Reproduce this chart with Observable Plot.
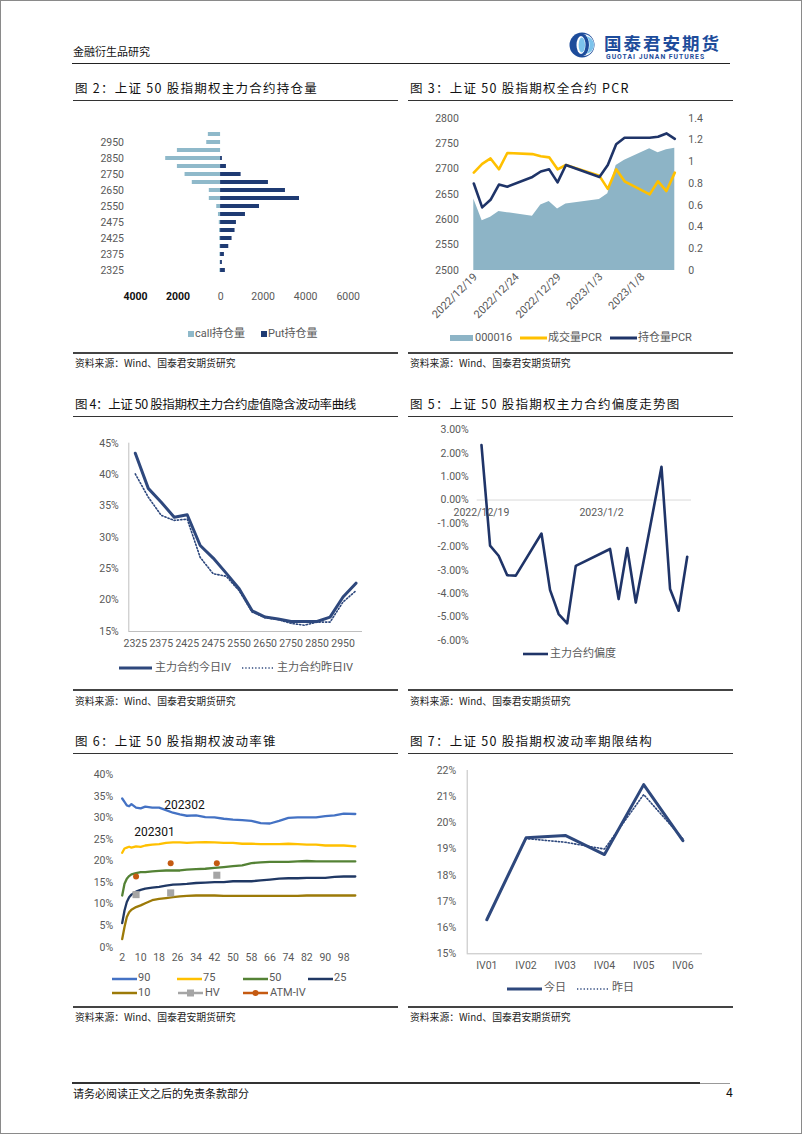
<!DOCTYPE html>
<html><head><meta charset="utf-8">
<script src="https://cdn.jsdelivr.net/npm/d3@7"></script>
<script src="https://cdn.jsdelivr.net/npm/@observablehq/plot@0.6"></script>
<style>
html,body{margin:0;padding:0;background:#fff;}
#page{position:relative;width:802px;height:1134px;overflow:hidden;background:#fff;}
</style></head><body><div id="page"></div>
<script>
// ---------- DATA ----------
// Fig 2: open interest by strike
const strikes = ["2325","2350","2375","2400","2425","2450","2475","2500","2550","2600","2650","2700","2750","2800","2850","2900","2950","3000"];
const callOI = [30,20,30,30,40,50,60,100,180,530,530,1330,1670,2030,2580,2030,650,575];
const putOI  = [225,85,180,385,540,680,745,1170,1830,3710,3050,2250,965,275,85,0,0,0];
const oiTicksNeg = [-4000,-2000];
const oiTicksPos = [0,2000,4000,6000];

// Fig 3 / Fig 5: trading days
const tradeDates = ["2022-12-19","2022-12-20","2022-12-21","2022-12-22","2022-12-23","2022-12-26","2022-12-27","2022-12-28","2022-12-29","2022-12-30","2023-01-03","2023-01-04","2023-01-05","2023-01-06","2023-01-09","2023-01-10","2023-01-11","2023-01-12"];
const idx000016 = [2641,2598,2605,2616,2614,2607,2629,2636,2621,2631,2640,2651,2707,2717,2740,2732,2738,2741];
const volPCR = [0.90,0.98,1.03,0.93,1.08,1.07,1.05,1.04,0.93,0.97,0.87,0.75,0.93,0.82,0.70,0.82,0.73,0.90];
const oiPCR  = [0.80,0.58,0.65,0.79,0.77,0.86,0.91,0.93,0.81,0.97,0.86,0.97,1.16,1.22,1.22,1.23,1.26,1.21];
const leftTicks3 = [2500,2550,2600,2650,2700,2750,2800];
const rightTicks3 = [0,0.2,0.4,0.6,0.8,1,1.2,1.4];
const dateTicks3 = ["2022/12/19","2022/12/24","2022/12/29","2023/1/3","2023/1/8"];

// Fig 4: IV smile (%)
const ivToday = [43.4,37.8,35.6,33.2,33.6,28.7,26.7,24.3,21.8,18.3,17.3,17.0,16.6,16.6,16.6,17.3,20.5,22.7];
const ivYest  = [40.1,36.4,33.5,32.7,32.9,26.8,24.2,23.8,21.5,18.1,17.2,16.9,16.3,16.0,16.5,16.5,19.7,21.5];
const yTicks4 = [15,20,25,30,35,40,45];

// Fig 5: skew (%)
const skew = [2.35,-1.95,-2.38,-3.21,-3.23,-1.43,-3.85,-4.87,-5.27,-2.81,-2.09,-4.23,-2.05,-4.38,1.42,-3.80,-4.73,-2.42];
const yTicks5 = [-6,-5,-4,-3,-2,-1,0,1,2,3];
const dateTicks5 = ["2022/12/19","2023/1/2"];

// Fig 6: volatility cone (%)
const days6 = [2,3,4,5,6,8,10,12,15,18,21,24,27,30,34,38,42,46,50,54,58,62,66,70,74,78,82,86,90,94,98,103];
const cone90 = [34.5,33.7,32.9,32.7,33.2,32.4,32.2,32.6,32.4,32.4,31.8,31.2,30.8,30.5,30.6,30.2,30.1,29.8,29.6,29.5,29.3,28.8,28.7,29.3,30.0,30.1,30.1,30.1,30.4,30.6,31.0,30.9];
const cone75 = [21.9,22.9,23.1,23.3,23.1,23.4,23.3,23.6,23.8,23.9,24.2,24.3,24.3,24.2,24.3,24.4,24.3,24.2,24.2,24.0,24.0,23.9,23.9,23.9,24.0,23.9,23.8,23.8,23.6,23.6,23.6,23.4];
const cone50 = [12.0,14.7,15.9,16.5,16.9,17.2,17.4,17.4,17.6,17.7,17.8,17.8,17.8,18.0,18.1,18.2,18.4,18.6,18.8,19.0,19.5,19.7,19.8,19.8,19.8,19.9,20.0,19.9,19.9,19.9,19.9,19.9];
const cone25 = [5.6,8.5,10.5,11.6,12.2,12.9,13.3,13.6,13.8,14.0,14.3,14.5,14.6,14.7,14.9,15.0,15.1,15.1,15.3,15.3,15.3,15.5,15.7,15.9,16.0,16.0,16.1,16.1,16.1,16.3,16.4,16.4];
const cone10 = [1.9,4.7,7.0,8.1,8.7,9.3,9.7,10.2,10.9,11.2,11.4,11.6,11.8,11.9,12.0,12.0,12.0,11.9,11.9,11.9,11.9,11.9,11.9,11.9,11.9,11.9,12.0,12.0,12.0,12.0,12.0,12.0];
const hvDays = [8,23,43];
const hvVals = [12.2,12.6,16.7];
const atmDays = [8,23,43];
const atmVals = [16.4,19.5,19.5];
const xTicks6 = [2,10,18,26,34,42,50,58,66,74,82,90,98];
const yTicks6 = [0,5,10,15,20,25,30,35,40];
const coneLabels = ["202302","202301"];
const coneLabelDay = [29,16];
const coneLabelVal = [33,26.7];

// Fig 7: term structure (%)
const terms = ["IV01","IV02","IV03","IV04","IV05","IV06"];
const termToday = [16.30,19.43,19.52,18.79,21.46,19.32];
const termYest  = [16.32,19.40,19.26,19.00,21.08,19.39];
const yTicks7 = [15,16,17,18,19,20,21,22];

// ---------- HELPERS ----------
const page = document.getElementById("page");
const TICKFONT = "Roboto, 'Noto Sans CJK SC', sans-serif";
const CJK = "'Noto Sans CJK SC', sans-serif";
const GRAY = "#595959";

function addText(str, x, yc, o = {}) {
  const size = o.size || 11;
  const d = document.createElement("div");
  d.textContent = str;
  d.style.cssText = `position:absolute;left:${x}px;top:${yc - size * 0.55}px;white-space:nowrap;line-height:1;` +
    `font-family:${o.font || CJK};font-size:${size}px;color:${o.color || "#000"};font-weight:${o.weight || "normal"};letter-spacing:${o.ls || 0}px;`;
  page.appendChild(d);
  return d;
}
function addLine(x1, x2, y, w, color) {
  const d = document.createElement("div");
  d.style.cssText = `position:absolute;left:${x1}px;top:${y - w / 2}px;width:${x2 - x1}px;height:${w}px;background:${color};`;
  page.appendChild(d);
}
function addPlot(svg, left, top) {
  svg.style.position = "absolute";
  svg.style.left = left + "px";
  svg.style.top = top + "px";
  page.appendChild(svg);
}
const NS = "http://www.w3.org/2000/svg";
function swatch(x, yc, w, kind, color, opts = {}) {
  const s = document.createElementNS(NS, "svg");
  s.setAttribute("width", w); s.setAttribute("height", 12);
  s.style.cssText = `position:absolute;left:${x}px;top:${yc - 6}px;overflow:visible;`;
  let html = "";
  if (kind === "rect") html = `<rect x="0" y="${6 - (opts.h || 6) / 2}" width="${w}" height="${opts.h || 6}" fill="${color}"/>`;
  else {
    html = `<line x1="0" x2="${w}" y1="6" y2="6" stroke="${color}" stroke-width="${opts.sw || 2.5}" ${opts.dash ? `stroke-dasharray="${opts.dash}"` : ""}/>`;
    if (opts.marker === "square") html += `<rect x="${w / 2 - 3.5}" y="2.5" width="7" height="7" fill="${color}"/>`;
    if (opts.marker === "circle") html += `<circle cx="${w / 2}" cy="6" r="3" fill="${opts.mcolor || color}"/>`;
  }
  s.innerHTML = html;
  page.appendChild(s);
}
function legendItem(x, yc, w, kind, color, label, opts = {}) {
  swatch(x, yc, w, kind, color, opts);
  addText(label, x + w + (opts.gap ?? 2), yc, {font: TICKFONT, size: 11, color: GRAY});
}
const baseStyle = {background: "transparent", overflow: "visible", fontFamily: TICKFONT, fontSize: "10.5px", color: GRAY};

// ---------- PAGE FRAME ----------
const border = document.createElement("div");
border.style.cssText = "position:absolute;left:0;top:0;width:802px;height:1134px;box-sizing:border-box;border:1px solid #8a8a8a;pointer-events:none;";
page.appendChild(border);

// header
addText("金融衍生品研究", 73, 52, {size: 11, color: "#111"});
addLine(72, 730, 63.5, 1.5, "#222");
const logo = document.createElementNS(NS, "svg");
logo.setAttribute("width", 32); logo.setAttribute("height", 26);
logo.style.cssText = "position:absolute;left:568px;top:32px;";
logo.innerHTML = `<circle cx="14" cy="13" r="12.5" fill="#1D4C9B"/><path d="M15,2 A11,11 0 0 1 15,24 A6,11 0 0 0 15,2 Z" fill="#fff"/><path d="M17,4 A9,9 0 0 1 17,22 A4.5,9 0 0 0 17,4 Z" fill="#7CC3EC"/><ellipse cx="13" cy="13" rx="4.5" ry="9" fill="#fff"/><ellipse cx="13.8" cy="13" rx="3.2" ry="7.5" fill="#7CC3EC"/>`;
page.appendChild(logo);
addText("国泰君安期货", 604, 43.5, {size: 17.5, weight: "bold", color: "#1D4C9B", ls: 2});
addText("GUOTAI JUNAN FUTURES", 606, 57.5, {size: 6.8, weight: "bold", color: "#1D4C9B", font: "Roboto, sans-serif", ls: 1});

// footer
addLine(72, 700, 1083, 1.5, "#333");
addLine(700, 730, 1083, 1, "#999");
addText("请务必阅读正文之后的免责条款部分", 73, 1094, {size: 11, color: "#111"});
addText("4", 726, 1094, {size: 12, color: "#111", font: "Roboto, sans-serif"});

// titles, rules, sources
function section(x1, x2, title, ty, uy, sy, ls) {
  addText(title, x1 + 2, ty, {size: 12.5, color: "#111", ls: ls});
  addLine(x1, x2, uy, 1, "#333");
  addLine(x1, x2, sy, 2, "#444");
  addText("资料来源：Wind、国泰君安期货研究", x1 + 2, sy + 12, {size: 9.8, color: "#222"});
}
section(73, 398, "图 2：上证 50 股指期权主力合约持仓量", 89, 100.5, 352.5, 1.25);
section(408, 733, "图 3：上证 50 股指期权全合约 PCR", 89, 100.5, 352.5, 1.25);
section(73, 398, "图 4：上证 50 股指期权主力合约虚值隐含波动率曲线", 405, 416, 690, -0.4);
section(408, 733, "图 5：上证 50 股指期权主力合约偏度走势图", 405, 416, 690, 1.25);
section(73, 398, "图 6：上证 50 股指期权波动率锥", 742, 753, 1006.5, 1.25);
section(408, 733, "图 7：上证 50 股指期权波动率期限结构", 742, 753, 1006.5, 1.25);

// ---------- FIG 2 ----------
const rows2 = strikes.map((s, i) => ({strike: s, call: callOI[i], put: putOI[i], i}));
const fig2 = Plot.plot({
  width: 300, height: 214,
  marginLeft: 65, marginRight: 22.3, marginTop: 20, marginBottom: 30,
  style: baseStyle,
  x: {domain: [-4000, 6000], axis: null},
  y: {domain: strikes.slice().reverse(), padding: 0.48, axis: null},
  marks: [
    Plot.barX(rows2, {y: "strike", x1: 0, x2: d => -d.call, fill: "#8FB9CA"}),
    Plot.barX(rows2, {y: "strike", x1: 0, x2: "put", fill: "#1F3B73"}),
    Plot.text(rows2.filter(d => d.i % 2 === 0), {y: "strike", frameAnchor: "left", dx: -11.5, textAnchor: "end", text: "strike", fill: GRAY}),
    Plot.text(oiTicksNeg, {x: d => d, frameAnchor: "bottom", dy: 15, text: d => String(Math.abs(d)), fill: "#111", fontWeight: "bold"}),
    Plot.text(oiTicksPos, {x: d => d, frameAnchor: "bottom", dy: 15, text: d => String(d), fill: GRAY})
  ]
});
addPlot(fig2, 70, 100);
legendItem(188, 334, 6, "rect", "#8FB9CA", "call持仓量", {h: 6, gap: 1});
legendItem(261, 334, 6, "rect", "#1F3B73", "Put持仓量", {h: 6, gap: 1});

// ---------- FIG 3 ----------
const parse = d3.utcParse("%Y-%m-%d");
const parseSlash = d3.utcParse("%Y/%m/%d");
const rows3 = tradeDates.map((d, i) => ({date: parse(d), idx: idx000016[i], vol: volPCR[i], oi: oiPCR[i]}));
const toLeft = v => 2500 + v * 300 / 1.4;
const fig3 = Plot.plot({
  width: 330, height: 225,
  marginLeft: 68.3, marginRight: 60.7, marginTop: 17.7, marginBottom: 55,
  style: baseStyle,
  x: {type: "utc", domain: [parse("2022-12-19"), parse("2023-01-12")], axis: null},
  y: {domain: [2500, 2800], axis: null},
  marks: [
    Plot.areaY(rows3, {x: "date", y1: 2500, y2: "idx", fill: "#8DB4C6"}),
    Plot.line(rows3, {x: "date", y: d => toLeft(d.vol), stroke: "#FFC000", strokeWidth: 2.6}),
    Plot.line(rows3, {x: "date", y: d => toLeft(d.oi), stroke: "#1F3468", strokeWidth: 2.6}),
    Plot.text(leftTicks3, {y: d => d, frameAnchor: "left", dx: -15, textAnchor: "end", text: d => String(d), fill: GRAY}),
    Plot.text(rightTicks3, {y: d => toLeft(d), frameAnchor: "right", dx: 13.5, textAnchor: "start", text: d => String(+d.toFixed(1)), fill: GRAY}),
    Plot.text(dateTicks3, {x: d => parseSlash(d), frameAnchor: "bottom", rotate: -45, textAnchor: "end", dx: 4, dy: 7, text: d => d, fill: GRAY, fontSize: 11})
  ]
});
addPlot(fig3, 405, 100);
legendItem(450, 338, 23, "rect", "#8DB4C6", "000016", {h: 6});
legendItem(520, 338, 27, "line", "#FFC000", "成交量PCR", {sw: 3, gap: 1});
legendItem(610, 338, 27, "line", "#1F3468", "持仓量PCR", {sw: 3, gap: 1});

// ---------- FIG 4 ----------
const rows4 = strikes.map((s, i) => ({i, strike: s, today: ivToday[i], yest: ivYest[i]}));
const fig4 = Plot.plot({
  width: 330, height: 225,
  marginLeft: 58.3, marginRight: 38, marginTop: 12.7, marginBottom: 24,
  style: baseStyle,
  x: {domain: [-0.5, strikes.length - 0.5], axis: null},
  y: {domain: [15, 45], axis: null},
  marks: [
    Plot.ruleY([15], {stroke: "#BFBFBF"}),
    Plot.ruleX([-0.5], {stroke: "#BFBFBF"}),
    Plot.line(rows4, {x: "i", y: "yest", stroke: "#2E487D", strokeWidth: 1.6, strokeDasharray: "1.3,2"}),
    Plot.line(rows4, {x: "i", y: "today", stroke: "#2E487D", strokeWidth: 3}),
    Plot.text(yTicks4, {y: d => d, frameAnchor: "left", dx: -10, textAnchor: "end", text: d => d + "%", fill: GRAY}),
    Plot.text(rows4.filter(d => d.i % 2 === 0), {x: "i", frameAnchor: "bottom", dy: 15, text: "strike", fill: GRAY})
  ]
});
addPlot(fig4, 70, 430);
legendItem(119, 668, 33, "line", "#2E487D", "主力合约今日IV", {sw: 3, gap: 3});
legendItem(242, 668, 31, "line", "#2E487D", "主力合约昨日IV", {sw: 1.6, dash: "1.3,2", gap: 4});

// ---------- FIG 5 ----------
const rows5 = tradeDates.map((d, i) => ({date: parse(d), skew: skew[i]}));
const fig5 = Plot.plot({
  width: 330, height: 230,
  marginLeft: 71.7, marginRight: 44, marginTop: 9.3, marginBottom: 10,
  style: baseStyle,
  x: {type: "utc", domain: [new Date(Date.UTC(2022, 11, 18, 12)), new Date(Date.UTC(2023, 0, 12, 12))], axis: null},
  y: {domain: [-6, 3], axis: null},
  marks: [
    Plot.ruleY([0], {stroke: "#D9D9D9"}),
    Plot.line(rows5, {x: "date", y: "skew", stroke: "#1F3468", strokeWidth: 2.6}),
    Plot.text(yTicks5, {y: d => d, frameAnchor: "left", dx: -8.5, textAnchor: "end", text: d => d.toFixed(2) + "%", fill: GRAY}),
    Plot.text(dateTicks5, {x: d => parseSlash(d), y: 0, dy: 12.5, text: d => d, fill: GRAY, fontSize: 10.5})
  ]
});
addPlot(fig5, 405, 420);
legendItem(523, 654, 25, "line", "#1F3468", "主力合约偏度", {sw: 2.6, gap: 2});

// ---------- FIG 6 ----------
const coneSeries = [
  {name: "90", vals: cone90, color: "#4472C4"},
  {name: "75", vals: cone75, color: "#FFC000"},
  {name: "50", vals: cone50, color: "#548235"},
  {name: "25", vals: cone25, color: "#203864"},
  {name: "10", vals: cone10, color: "#9C7A08"}
];
const rows6 = coneSeries.flatMap(s => days6.map((d, i) => ({series: s.name, day: d, v: s.vals[i]})));
const hvRows = hvDays.map((d, i) => ({day: d, v: hvVals[i]}));
const atmRows = atmDays.map((d, i) => ({day: d, v: atmVals[i]}));
const annRows = coneLabels.map((t, i) => ({t, day: coneLabelDay[i], v: coneLabelVal[i]}));
const fig6 = Plot.plot({
  width: 330, height: 210,
  marginLeft: 51.7, marginRight: 45.2, marginTop: 14.3, marginBottom: 23.3,
  style: baseStyle,
  x: {domain: [2, 103], axis: null},
  y: {domain: [0, 40], axis: null},
  color: {domain: coneSeries.map(s => s.name), range: coneSeries.map(s => s.color)},
  marks: [
    Plot.line(rows6, {x: "day", y: "v", z: "series", stroke: "series", strokeWidth: 2.3}),
    Plot.dot(hvRows, {x: "day", y: "v", symbol: "square", r: 4, fill: "#A5A5A5"}),
    Plot.dot(atmRows, {x: "day", y: "v", r: 3, fill: "#C55A11"}),
    Plot.text(annRows, {x: "day", y: "v", text: "t", fill: "#111", fontSize: 12}),
    Plot.text(yTicks6, {y: d => d, frameAnchor: "left", dx: -9, textAnchor: "end", text: d => d + "%", fill: GRAY}),
    Plot.text(xTicks6, {x: d => d, frameAnchor: "bottom", dy: 13.5, text: d => String(d), fill: GRAY})
  ]
});
addPlot(fig6, 70, 760);
legendItem(112, 978.5, 25, "line", "#4472C4", "90", {sw: 2.5, gap: 1});
legendItem(177, 978.5, 25, "line", "#FFC000", "75", {sw: 2.5, gap: 1});
legendItem(243, 978.5, 25, "line", "#548235", "50", {sw: 2.5, gap: 1});
legendItem(308, 978.5, 25, "line", "#203864", "25", {sw: 2.5, gap: 1});
legendItem(112, 993, 25, "line", "#9C7A08", "10", {sw: 2.5, gap: 1});
legendItem(178, 993, 25, "line", "#A5A5A5", "HV", {sw: 2.5, gap: 2, marker: "square"});
legendItem(243, 993, 25, "line", "#C55A11", "ATM-IV", {sw: 2.5, gap: 2, marker: "circle"});

// ---------- FIG 7 ----------
const rows7 = terms.map((t, i) => ({i, term: t, today: termToday[i], yest: termYest[i]}));
const fig7 = Plot.plot({
  width: 330, height: 220,
  marginLeft: 61.7, marginRight: 33, marginTop: 10, marginBottom: 26.7,
  style: baseStyle,
  x: {domain: [-0.5, terms.length - 0.5], axis: null},
  y: {domain: [15, 22], axis: null},
  marks: [
    Plot.ruleY([15], {stroke: "#BFBFBF"}),
    Plot.ruleX([-0.5], {stroke: "#BFBFBF"}),
    Plot.line(rows7, {x: "i", y: "yest", stroke: "#2E487D", strokeWidth: 1.6, strokeDasharray: "1.3,2"}),
    Plot.line(rows7, {x: "i", y: "today", stroke: "#2E487D", strokeWidth: 3}),
    Plot.text(yTicks7, {y: d => d, frameAnchor: "left", dx: -11, textAnchor: "end", text: d => d + "%", fill: GRAY}),
    Plot.text(rows7, {x: "i", frameAnchor: "bottom", dy: 15, text: "term", fill: GRAY})
  ]
});
addPlot(fig7, 405, 760);
legendItem(507, 988.5, 35, "line", "#2E487D", "今日", {sw: 3, gap: 2});
legendItem(577, 988.5, 31, "line", "#2E487D", "昨日", {sw: 1.6, dash: "1.3,2", gap: 4});
</script></body></html>
